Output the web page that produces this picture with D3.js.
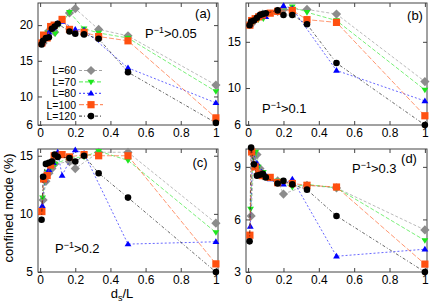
<!DOCTYPE html>
<html>
<head>
<meta charset="utf-8">
<script src="https://cdn.jsdelivr.net/npm/d3@7"></script>
<style>
  body { margin: 0; background: #fff; }
  text { font-family: "Liberation Sans", Arial, sans-serif; }
</style>
</head>
<body>
<div id="chart"></div>
<script>
// series names and x positions (d_s/L) for each system size
const seriesNames = ["L=60", "L=70", "L=80", "L=100", "L=120"];
const x60  = [0.017, 0.033, 0.05, 0.067, 0.083, 0.167, 0.2, 0.333, 0.5, 1];
const x70  = [0.014, 0.029, 0.043, 0.057, 0.086, 0.167, 0.25, 0.333, 0.5, 1];
const x80  = [0.0125, 0.025, 0.05, 0.075, 0.1, 0.125, 0.2, 0.25, 0.5, 1];
const x100 = [0.01, 0.02, 0.04, 0.06, 0.08, 0.125, 0.167, 0.25, 0.333, 0.5, 1];
const x120 = [0.0083, 0.017, 0.033, 0.05, 0.067, 0.083, 0.1, 0.167, 0.2, 0.25, 0.333, 0.5, 1];

const xTicks = [0, 0.2, 0.4, 0.6, 0.8, 1];
const xTickLabels = ["0", "0.2", "0.4", "0.6", "0.8", "1"];

// (a) P^-1 > 0.05
const a60  = [17.5, 18.3, 19.2, 19.8, 19.0, 21.7, 22.3, 19.4, 18.5, 11.6];
const a70  = [17.4, 18.2, 18.9, 19.4, 18.8, 21.8, 19.5, 18.9, 18.2, 10.7];
const a80  = [17.5, 18.3, 19.0, 19.6, 20.2, 20.5, 19.4, 19.3, 14.0, 9.1];
const a100 = [17.5, 18.6, 18.2, 19.8, 20.0, 20.8, 19.4, 19.0, 18.4, 17.8, 7.0];
const a120 = [17.3, 17.8, 18.2, 18.3, 19.5, 19.8, 20.2, 19.1, 18.8, 18.7, 18.1, 13.4, 6.3];

// (b) P^-1 > 0.1
const b60  = [16.9, 17.3, 17.6, 17.9, 18.0, 18.3, 18.5, 18.5, 18.0, 10.7];
const b70  = [16.9, 17.2, 17.4, 17.4, 17.5, 18.3, 18.8, 18.2, 17.3, 9.8];
const b80  = [16.9, 17.3, 17.6, 17.8, 17.7, 18.1, 18.9, 18.6, 11.9, 8.6];
const b100 = [16.8, 17.3, 17.5, 17.7, 17.9, 18.1, 18.3, 18.4, 17.4, 17.1, 7.0];
const b120 = [16.8, 17.2, 17.3, 17.6, 17.9, 18.0, 18.1, 18.4, 17.9, 17.9, 16.9, 12.7, 6.0];

// (c) P^-1 > 0.2
const c60  = [11.2, 12.8, 13.5, 13.9, 14.3, 14.5, 13.9, 15.3, 15.3, 9.2];
const c70  = [11.4, 13.0, 13.6, 13.9, 14.3, 14.8, 14.9, 15.4, 14.6, 8.4];
const c80  = [10.7, 12.9, 13.8, 14.4, 15.3, 13.3, 15.5, 15.2, 7.4, 7.6];
const c100 = [10.2, 13.0, 13.3, 14.2, 15.0, 15.1, 14.9, 15.1, 15.0, 15.0, 5.7];
const c120 = [9.5, 13.2, 14.3, 14.4, 14.5, 15.1, 14.9, 14.8, 14.5, 15.0, 13.5, 11.4, 5.0];

// (d) P^-1 > 0.3
const d60  = [6.2, 9.6, 9.7, 8.9, 8.5, 8.2, 7.45, 7.95, 7.8, 5.4];
const d70  = [6.6, 9.8, 9.85, 9.0, 8.7, 8.2, 7.85, 8.0, 7.8, 4.8];
const d80  = [5.6, 9.9, 9.2, 8.7, 8.5, 8.3, 8.0, 8.3, 3.9, 4.3];
const d100 = [5.1, 9.85, 9.0, 8.6, 8.5, 8.4, 8.1, 8.05, 7.95, 7.85, 3.45];
const d120 = [4.75, 10.1, 9.15, 8.5, 8.55, 8.6, 8.4, 8.05, 8.2, 8.0, 7.7, 6.2, 3.0];

const xs = [x60, x70, x80, x100, x120];
const colors = ["#8c8c8c", "#1ee61e", "#0000ff", "#ff5010", "#000000"];
const dashes = ["3,2", "4,2", "2,2", "5,2", "3,2,1,2"];
const shapes = ["diamond", "tridown", "triup", "square", "circle"];

function markerPath(shape) {
    if (shape === "diamond") return "M0,-4.6L4.6,0L0,4.6L-4.6,0Z";
    if (shape === "tridown") return "M-3.4,-2.2L3.4,-2.2L0,3.4Z";
    if (shape === "triup") return "M-3.4,2.2L3.4,2.2L0,-3.4Z";
    if (shape === "square") return "M-3.6,-3.6H3.6V3.6H-3.6Z";
    return d3.symbol().type(d3.symbolCircle).size(34)();
}

const panels = [
    { left: 38, right: 218, top: 3, bottom: 125, yDomain: [6, 23.1], yTicks: [6, 10, 15, 20],
      vals: [a60, a70, a80, a100, a120], tag: "(a)", tagX: 203, tagY: 18,
      note: "0.05", noteX: 145, noteY: 38, legend: true },
    { left: 246, right: 427, top: 3, bottom: 125, yDomain: [6, 19.2], yTicks: [6, 10, 15],
      vals: [b60, b70, b80, b100, b120], tag: "(b)", tagX: 415, tagY: 20,
      note: "0.1", noteX: 262, noteY: 113 },
    { left: 38, right: 218, top: 149, bottom: 272, yDomain: [5, 15.58], yTicks: [5, 10, 15],
      vals: [c60, c70, c80, c100, c120], tag: "(c)", tagX: 200, tagY: 167,
      note: "0.2", noteX: 55, noteY: 253, xTitle: true, yTitle: true },
    { left: 246, right: 427, top: 149, bottom: 272, yDomain: [3, 10.02], yTicks: [3, 6, 9],
      vals: [d60, d70, d80, d100, d120], tag: "(d)", tagX: 409, tagY: 163,
      note: "0.3", noteX: 352, noteY: 173 }
];

const svg = d3.select("#chart").append("svg")
    .attr("width", 436)
    .attr("height", 305);

panels.forEach(p => {
    const x = d3.scaleLinear().domain([-0.012, 1.012]).range([p.left, p.right]);
    const y = d3.scaleLinear().domain(p.yDomain).range([p.bottom, p.top]);
    const g = svg.append("g");

    // ticks on all four sides, pointing inward
    const bottomAxis = g.append("g")
        .attr("transform", `translate(0,${p.bottom})`)
        .call(d3.axisBottom(x).tickValues(xTicks).tickFormat((d, i) => xTickLabels[i])
            .tickSizeInner(-4).tickSizeOuter(0).tickPadding(3));
    g.append("g")
        .attr("transform", `translate(0,${p.top})`)
        .call(d3.axisTop(x).tickValues(xTicks).tickFormat("").tickSizeInner(-4).tickSizeOuter(0));
    const leftAxis = g.append("g")
        .attr("transform", `translate(${p.left},0)`)
        .call(d3.axisLeft(y).tickValues(p.yTicks).tickFormat(d => String(d))
            .tickSizeInner(-4).tickSizeOuter(0).tickPadding(5));
    g.append("g")
        .attr("transform", `translate(${p.right},0)`)
        .call(d3.axisRight(y).tickValues(p.yTicks).tickFormat("").tickSizeInner(-4).tickSizeOuter(0));

    g.selectAll(".domain").remove();
    g.selectAll(".tick line").attr("stroke", "#444");
    bottomAxis.selectAll("text").style("font-size", "12px").attr("fill", "#000");
    leftAxis.selectAll("text").style("font-size", "12px").attr("fill", "#000");

    g.append("rect")
        .attr("x", p.left).attr("y", p.top)
        .attr("width", p.right - p.left).attr("height", p.bottom - p.top)
        .attr("fill", "none").attr("stroke", "#444").attr("stroke-width", 1);

    const line = d3.line().x(d => x(d[0])).y(d => y(d[1]));

    p.vals.forEach((vals, si) => {
        const pts = xs[si].map((xv, i) => [xv, vals[i]]);
        g.append("path")
            .datum(pts)
            .attr("d", line)
            .attr("fill", "none")
            .attr("stroke", colors[si])
            .attr("stroke-width", 0.8)
            .attr("stroke-dasharray", dashes[si])
            .attr("opacity", 0.75);
        g.selectAll(null)
            .data(pts)
            .enter()
            .append("path")
            .attr("transform", d => `translate(${x(d[0])},${y(d[1])})`)
            .attr("d", markerPath(shapes[si]))
            .attr("fill", colors[si]);
    });

    g.append("text")
        .attr("x", p.tagX).attr("y", p.tagY)
        .attr("text-anchor", "middle")
        .style("font-size", "13px")
        .text(p.tag);

    const note = g.append("text")
        .attr("x", p.noteX).attr("y", p.noteY)
        .style("font-size", "13px");
    note.append("tspan").text("P");
    note.append("tspan").attr("dy", -5).style("font-size", "9px").text("\u22121");
    note.append("tspan").attr("dy", 5).text(">" + p.note);

    if (p.legend) {
        seriesNames.forEach((name, si) => {
            const ly = 70.5 + si * 11.4;
            g.append("text")
                .attr("x", 76).attr("y", ly + 3.8)
                .attr("text-anchor", "end")
                .style("font-size", "10.5px")
                .text(name);
            g.append("line")
                .attr("x1", 79).attr("x2", 103).attr("y1", ly).attr("y2", ly)
                .attr("stroke", colors[si])
                .attr("stroke-width", 0.8)
                .attr("stroke-dasharray", dashes[si]);
            g.append("path")
                .attr("transform", `translate(91,${ly})`)
                .attr("d", markerPath(shapes[si]))
                .attr("fill", colors[si]);
        });
    }

    if (p.xTitle) {
        const xt = g.append("text")
            .attr("x", 122).attr("y", 298)
            .attr("text-anchor", "middle")
            .style("font-size", "13px");
        xt.append("tspan").text("d");
        xt.append("tspan").attr("dy", 3).style("font-size", "9px").text("s");
        xt.append("tspan").attr("dy", -3).text("/L");
    }
    if (p.yTitle) {
        g.append("text")
            .attr("transform", "translate(13,208) rotate(-90)")
            .attr("text-anchor", "middle")
            .style("font-size", "13px")
            .text("confined mode (%)");
    }
});
</script>
</body>
</html>
